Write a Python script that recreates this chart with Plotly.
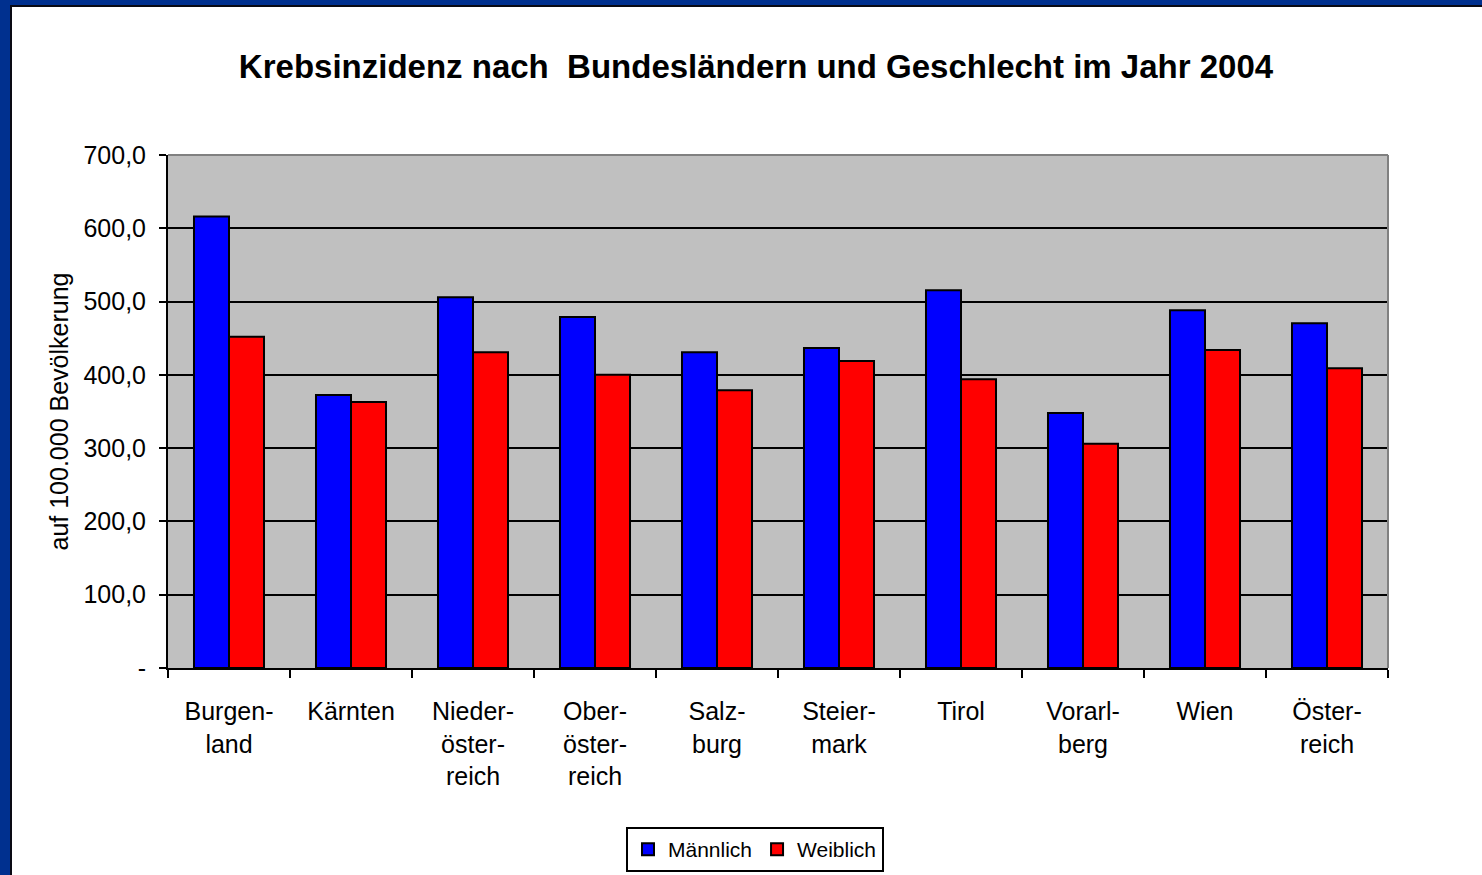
import plotly.graph_objects as go

categories = ["Burgenland", "Kärnten", "Niederösterreich", "Oberösterreich", "Salzburg",
              "Steiermark", "Tirol", "Vorarlberg", "Wien", "Österreich"]
tick_labels = ["Burgen-<br>land", "Kärnten", "Nieder-<br>öster-<br>reich", "Ober-<br>öster-<br>reich",
               "Salz-<br>burg", "Steier-<br>mark", "Tirol", "Vorarl-<br>berg", "Wien", "Öster-<br>reich"]
maennlich = [616.0, 372.5, 506.0, 479.0, 431.0, 436.5, 515.5, 348.0, 488.0, 470.5]
weiblich = [452.0, 363.0, 431.0, 400.0, 379.0, 419.0, 394.0, 306.0, 434.0, 409.0]
y_tickvals = [0, 100, 200, 300, 400, 500, 600, 700]
y_ticktext = ["-", "100,0", "200,0", "300,0", "400,0", "500,0", "600,0", "700,0"]

W, H = 1482, 875
L, R, T, B = 168, 94, 155, 207
PW, PH = W - L - R, H - T - B

def px(x):
    return (x - L) / PW

def py(y):
    return (H - B - y) / PH

FONT = "Liberation Sans, Arial, sans-serif"

fig = go.Figure()
fig.add_trace(go.Bar(x=categories, y=maennlich, name="Männlich",
                     marker=dict(color="#0000FF", line=dict(color="black", width=2))))
fig.add_trace(go.Bar(x=categories, y=weiblich, name="Weiblich",
                     marker=dict(color="#FF0000", line=dict(color="black", width=2))))

shapes = [
    dict(type="line", xref="paper", yref="paper", x0=0, x1=1, y0=1, y1=1,
         line=dict(color="#808080", width=2), layer="above"),
    dict(type="line", xref="paper", yref="paper", x0=1, x1=1, y0=0, y1=1,
         line=dict(color="#808080", width=2), layer="above"),
    dict(type="rect", xref="paper", yref="paper", x0=px(-5), x1=px(10), y0=py(H + 5), y1=py(-5),
         fillcolor="#00308F", line=dict(width=0), layer="above"),
    dict(type="rect", xref="paper", yref="paper", x0=px(-5), x1=px(W + 5), y0=py(5), y1=py(-5),
         fillcolor="#00308F", line=dict(width=0), layer="above"),
    dict(type="rect", xref="paper", yref="paper", x0=px(10), x1=px(12), y0=py(H + 5), y1=py(5),
         fillcolor="#0A0A14", line=dict(width=0), layer="above"),
    dict(type="rect", xref="paper", yref="paper", x0=px(10), x1=px(W + 5), y0=py(7), y1=py(5),
         fillcolor="#0A0A14", line=dict(width=0), layer="above"),
]

fig.update_layout(
    width=W, height=H,
    margin=dict(l=L, r=R, t=T, b=B, pad=0, autoexpand=False),
    paper_bgcolor="white",
    plot_bgcolor="#C0C0C0",
    barmode="group",
    bargap=0.426,
    bargroupgap=0,
    font=dict(family=FONT, color="black", size=24),
    title=dict(text="<b>Krebsinzidenz nach \u00a0Bundesländern und Geschlecht im Jahr 2004</b>",
               x=756 / W, xanchor="center", y=1 - 66 / H, yanchor="middle",
               font=dict(family=FONT, size=33, color="black")),
    xaxis=dict(
        type="category",
        tickmode="array", tickvals=categories, ticktext=tick_labels,
        tickson="boundaries", ticks="outside", ticklen=8, tickwidth=2, tickcolor="black",
        showline=True, linecolor="black", linewidth=2,
        showgrid=False, tickfont=dict(family=FONT, size=25, color="black"),
        ticklabelstandoff=20,
    ),
    yaxis=dict(
        range=[0, 700], tickmode="array", tickvals=y_tickvals, ticktext=y_ticktext,
        ticks="outside", ticklen=7, tickwidth=2, tickcolor="black",
        showline=True, linecolor="black", linewidth=2,
        showgrid=True, gridcolor="black", gridwidth=2, zeroline=False,
        tickfont=dict(family=FONT, size=25, color="black"),
        ticklabelstandoff=8,
        title=dict(text="auf 100.000 Bevölkerung", standoff=8,
                   font=dict(family=FONT, size=25, color="black")),
    ),
    legend=dict(
        orientation="h", x=px(755), xanchor="center", y=py(827), yanchor="top",
        bordercolor="black", borderwidth=2, bgcolor="white",
        font=dict(family=FONT, size=21, color="black"),
        itemwidth=30, traceorder="normal",
    ),
    shapes=shapes,
)

fig.write_html("out.html", config={"displayModeBar": False},
               post_script="document.body.style.margin='0';document.body.style.overflow='hidden';")
